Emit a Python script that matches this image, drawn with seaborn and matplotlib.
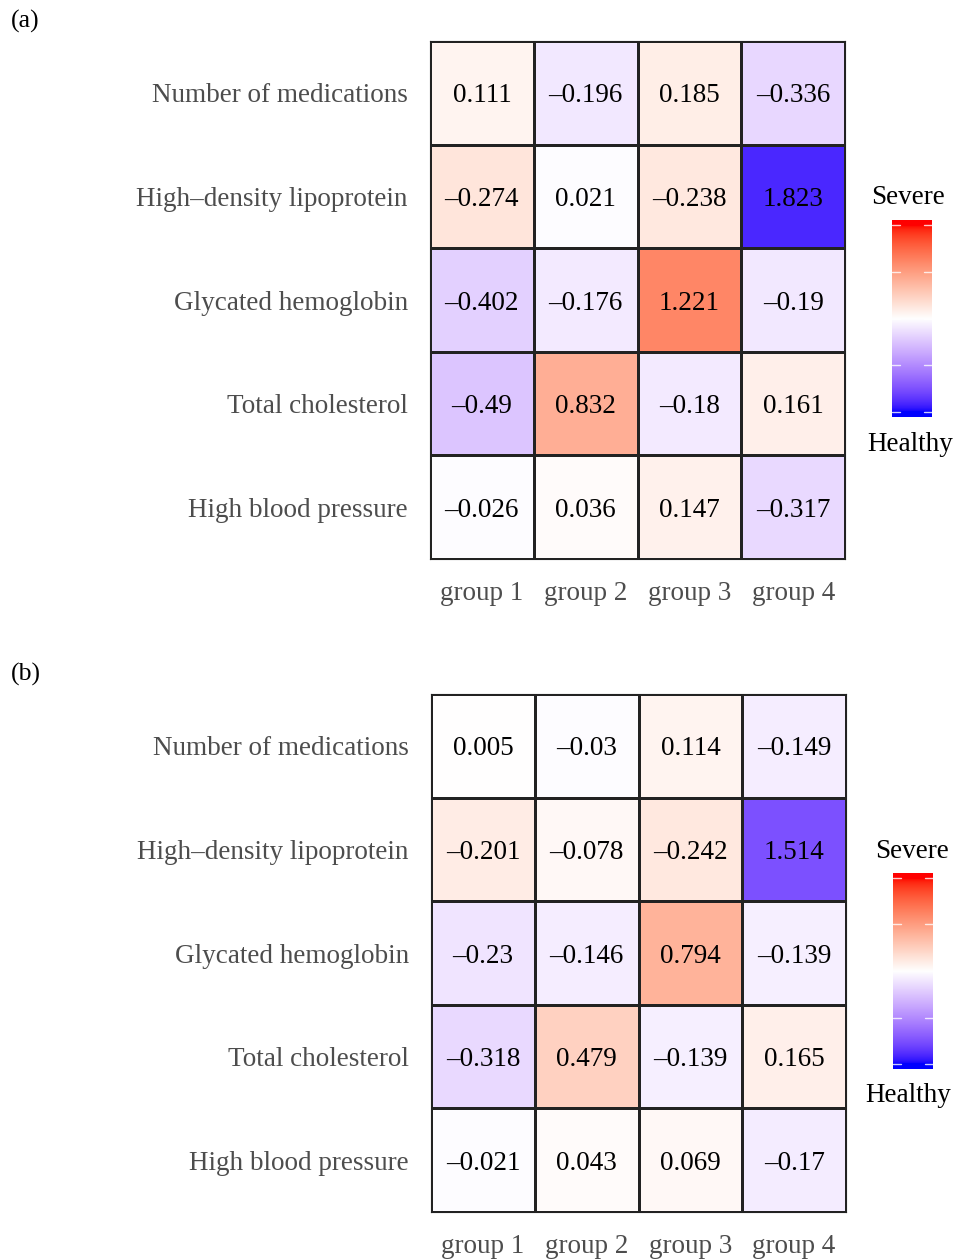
import numpy as np
import pandas as pd
import matplotlib
matplotlib.use("Agg")
import matplotlib.pyplot as plt
import seaborn as sns
from matplotlib.colors import ListedColormap

sns.set_theme(style="white")
plt.rcParams['font.family'] = ['Liberation Serif', 'DejaVu Serif']

# ---------------- data ----------------
rows = ["Number of medications", "High\u2013density lipoprotein",
        "Glycated hemoglobin", "Total cholesterol", "High blood pressure"]
groups = ["group 1", "group 2", "group 3", "group 4"]

vals_a = [[0.111, -0.196, 0.185, -0.336],
          [-0.274, 0.021, -0.238, 1.823],
          [-0.402, -0.176, 1.221, -0.19],
          [-0.49, 0.832, -0.18, 0.161],
          [-0.026, 0.036, 0.147, -0.317]]
vals_b = [[0.005, -0.03, 0.114, -0.149],
          [-0.201, -0.078, -0.242, 1.514],
          [-0.23, -0.146, 0.794, -0.139],
          [-0.318, 0.479, -0.139, 0.165],
          [-0.021, 0.043, 0.069, -0.17]]
# direction of severity per row (higher HDL is healthier)
row_sign = [1, -1, 1, 1, 1]
limits = (-2.0, 2.0)
cbar_breaks = [-2, -1, 0, 1, 2]

# ---------------- colour map (Lab interpolation blue-white-red) ----------------
def srgb_to_lab(rgb):
    rgb = np.asarray(rgb, float)
    lin = np.where(rgb <= 0.04045, rgb / 12.92, ((rgb + 0.055) / 1.055) ** 2.4)
    M = np.array([[0.4124564, 0.3575761, 0.1804375],
                  [0.2126729, 0.7151522, 0.0721750],
                  [0.0193339, 0.1191920, 0.9503041]])
    xyz = lin @ M.T
    wp = np.array([0.95047, 1.0, 1.08883])
    t = xyz / wp
    d = 6 / 29
    f = np.where(t > d ** 3, np.cbrt(t), t / (3 * d * d) + 4 / 29)
    L = 116 * f[..., 1] - 16
    a = 500 * (f[..., 0] - f[..., 1])
    b = 200 * (f[..., 1] - f[..., 2])
    return np.stack([L, a, b], -1)

def lab_to_srgb(lab):
    lab = np.asarray(lab, float)
    fy_ = (lab[..., 0] + 16) / 116
    fx_ = fy_ + lab[..., 1] / 500
    fz_ = fy_ - lab[..., 2] / 200
    d = 6 / 29
    def finv(f):
        return np.where(f > d, f ** 3, 3 * d * d * (f - 4 / 29))
    wp = np.array([0.95047, 1.0, 1.08883])
    xyz = np.stack([finv(fx_), finv(fy_), finv(fz_)], -1) * wp
    Minv = np.array([[3.2404542, -1.5371385, -0.4985314],
                     [-0.9692660, 1.8760108, 0.0415560],
                     [0.0556434, -0.2040259, 1.0572252]])
    lin = xyz @ Minv.T
    lin = np.clip(lin, 0, 1)
    rgb = np.where(lin <= 0.0031308, 12.92 * lin, 1.055 * lin ** (1 / 2.4) - 0.055)
    return np.clip(rgb, 0, 1)

lab_blue = srgb_to_lab([0, 0, 1])
lab_white = srgb_to_lab([1, 1, 1])
lab_red = srgb_to_lab([1, 0, 0])
n = 256
tt = np.linspace(0, 1, n)
cols = []
for t in tt:
    if t < 0.5:
        f = t / 0.5
        lab = lab_blue * (1 - f) + lab_white * f
    else:
        f = (t - 0.5) / 0.5
        lab = lab_white * (1 - f) + lab_red * f
    cols.append(lab_to_srgb(lab))
cmap = ListedColormap(np.array(cols))

# ---------------- figure ----------------
W, H = 956, 1260
fig = plt.figure(figsize=(W / 100, H / 100), dpi=100)

def fx(x):
    return x / W

def fy(y):
    return 1 - y / H

label_color = "#4D4D4D"
fs = 19.5

def fmt(v):
    s = f"{v:.3f}".rstrip("0").rstrip(".")
    return s.replace("-", "\u2013")

def panel(vals, hm_box, cb_box, sev_xy, hea_xy, tag, tag_xy):
    df = pd.DataFrame(vals, index=rows, columns=groups)
    colour = df.mul(row_sign, axis=0)
    annot = df.map(fmt)
    x0, y0, x1, y1 = hm_box
    ax = fig.add_axes([fx(x0), fy(y1), fx(x1) - fx(x0), fy(y0) - fy(y1)])
    sns.heatmap(colour, ax=ax, cmap=cmap, vmin=limits[0], vmax=limits[1],
                annot=annot, fmt="", cbar=False, linewidths=0.8,
                linecolor="#222222",
                annot_kws={"fontsize": fs, "color": "black",
                           "family": ["Liberation Serif"]})
    # nudge annotations slightly down to match baseline placement
    for t in ax.texts:
        x, y = t.get_position()
        t.set_position((x, y + 0.03))
    for sp in ax.spines.values():
        sp.set_visible(True)
        sp.set_color("#222222")
        sp.set_linewidth(0.8)
    ax.tick_params(axis="both", length=0)
    ax.tick_params(axis="y", pad=16)
    ax.tick_params(axis="x", pad=16)
    ax.set_yticks(np.arange(len(rows)) + 0.53)
    ax.set_yticklabels(rows, rotation=0, fontsize=fs, color=label_color)
    ax.set_xticklabels(groups, rotation=0, fontsize=fs, color=label_color)
    ax.set_xlabel("")
    ax.set_ylabel("")

    # colour bar
    cx0, cy0, cx1, cy1 = cb_box
    cax = fig.add_axes([fx(cx0), fy(cy1), fx(cx1) - fx(cx0), fy(cy0) - fy(cy1)])
    ext = limits[1] + (limits[1] - limits[0]) / 19 / 2
    grad = np.linspace(-ext, ext, 400).reshape(-1, 1)
    grad = np.clip(grad, limits[0], limits[1])
    cax.imshow(grad, aspect="auto", cmap=cmap, vmin=limits[0], vmax=limits[1],
               origin="lower", extent=[0, 1, -ext, ext])
    for b in cbar_breaks:
        cax.plot([0, 0.2], [b, b], color="white", lw=1.0, alpha=0.8)
        cax.plot([0.8, 1], [b, b], color="white", lw=1.0, alpha=0.8)
    cax.set_xlim(0, 1)
    cax.set_ylim(-ext, ext)
    cax.axis("off")
    fig.text(fx(sev_xy[0]), fy(sev_xy[1]), "Severe", ha="center", va="center",
             fontsize=fs, color="black")
    fig.text(fx(hea_xy[0]), fy(hea_xy[1]), "Healthy", ha="center", va="center",
             fontsize=fs, color="black")
    fig.text(fx(tag_xy[0]), fy(tag_xy[1]), tag, ha="left", va="center",
             fontsize=18.5, color="black")

panel(vals_a, (430, 41, 845, 559), (892, 220, 932, 417), (908, 198), (910, 444),
      "(a)", (11, 21))
panel(vals_b, (431, 694, 846, 1212), (893, 873, 933, 1069), (912, 852), (908, 1095),
      "(b)", (11, 674))

fig.savefig("out.png", dpi=100)
